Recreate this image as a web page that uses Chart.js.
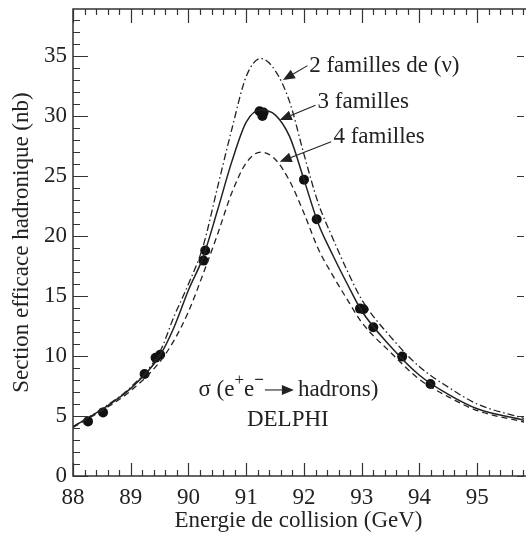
<!DOCTYPE html>
<html><head><meta charset="utf-8">
<script src="https://cdn.jsdelivr.net/npm/chart.js@4.4.1/dist/chart.umd.min.js"></script>
<style>html,body{margin:0;padding:0;background:#fff;overflow:hidden}#wrap{width:529px;height:539px}</style>
</head><body><div id="wrap"><canvas id="c" width="529" height="539"></canvas></div>
<script>
// ---- data ----
const energies       = [88, 88.5, 89, 89.5, 89.75, 90, 90.25, 90.5, 90.75, 91, 91.25, 91.5, 91.75, 92, 92.25, 92.5, 92.75, 93, 93.5, 94, 94.5, 95, 95.81];
const sigma2Families = [4.1, 5.6, 7.4, 10.3, 13.3, 16.0, 19.1, 24.0, 28.9, 33.3, 34.8, 33.8, 31.2, 26.8, 22.7, 19.8, 17.1, 14.7, 11.6, 9.1, 7.4, 6.0, 4.8];
const sigma3Families = [4.1, 5.55, 7.3, 10.0, 12.4, 15.5, 18.2, 22.1, 26.2, 29.5, 30.5, 30.1, 28.3, 24.7, 21.0, 18.4, 16.0, 13.75, 10.8, 8.4, 6.8, 5.6, 4.65];
const sigma4Families = [4.05, 5.45, 7.1, 9.5, 11.3, 13.7, 16.8, 20.1, 23.6, 26.1, 27.0, 26.4, 24.6, 21.9, 18.9, 16.7, 14.7, 12.8, 10.3, 8.05, 6.6, 5.45, 4.5];
const measuredEnergy = [88.26, 88.52, 89.24, 89.43, 89.51, 90.26, 90.29, 91.23, 91.28, 91.3, 92.0, 92.22, 92.97, 93.03, 93.2, 93.7, 94.19];
const measuredSigma  = [4.55, 5.3, 8.5, 9.85, 10.1, 17.95, 18.8, 30.4, 30.0, 30.3, 24.7, 21.4, 13.95, 13.9, 12.4, 9.95, 7.67];
const xTickValues = [88, 89, 90, 91, 92, 93, 94, 95];
const yTickValues = [0, 5, 10, 15, 20, 25, 30, 35];
const seriesLabels = ['2 familles de (\u03BD)', '3 familles', '4 familles'];
const xTitle = 'Energie de collision (GeV)';
const yTitle = 'Section efficace hadronique (nb)';

const pts = (xs, ys) => xs.map((v, i) => ({x: v, y: ys[i]}));
const FONT = '"Liberation Serif", "Times New Roman", serif';
const INK = '#222';

const decor = {
  id: 'decor',
  afterDraw(chart) {
    const {ctx, chartArea: ca, scales: {x, y}} = chart;
    ctx.save();
    ctx.strokeStyle = '#333';
    ctx.lineWidth = 1.5;
    ctx.beginPath();
    ctx.moveTo(ca.right + 2, ca.top); ctx.lineTo(ca.left, ca.top);
    ctx.lineTo(ca.left, ca.bottom); ctx.lineTo(ca.right + 2, ca.bottom);
    ctx.stroke();
    ctx.lineWidth = 1.2;
    ctx.beginPath();
    for (let k = 0; k <= 40; k++) {
      const v = 88 + k * 0.2;
      if (v > x.max + 1e-6) break;
      const px = Math.round(x.getPixelForValue(v)) + 0.5;
      const major = k % 5 === 0;
      ctx.moveTo(px, ca.bottom); ctx.lineTo(px, ca.bottom - (major ? 13 : 6));
      ctx.moveTo(px, ca.top); ctx.lineTo(px, ca.top + (major ? 14 : 6));
    }
    for (let k = 0; k <= 38; k++) {
      const py = Math.round(y.getPixelForValue(k)) + 0.5;
      const major = k % 5 === 0;
      ctx.moveTo(ca.left, py); ctx.lineTo(ca.left + (major ? 15 : 7), py);
      if (major) { ctx.moveTo(ca.right, py); ctx.lineTo(ca.right - 7, py); }
    }
    ctx.stroke();

    // annotation labels with arrows
    ctx.fillStyle = INK; ctx.strokeStyle = INK; ctx.lineWidth = 1.1;
    ctx.font = '23px ' + FONT;
    ctx.textBaseline = 'middle'; ctx.textAlign = 'left';
    const notes = [
      {text: seriesLabels[0], tx: 92.09, ty: 34.17, from: [92.06, 34.2], to: [91.635, 33.0]},
      {text: seriesLabels[1], tx: 92.235, ty: 31.19, from: [92.2, 30.9], to: [91.58, 29.67]},
      {text: seriesLabels[2], tx: 92.51, ty: 28.27, from: [92.47, 27.86], to: [91.58, 26.19]}
    ];
    const arrow = (x0, y0, x1, y1, hl, hw) => {
      const a = Math.atan2(y1 - y0, x1 - x0);
      const bx = x1 - hl * Math.cos(a), by = y1 - hl * Math.sin(a);
      ctx.beginPath(); ctx.moveTo(x0, y0); ctx.lineTo(bx, by); ctx.stroke();
      ctx.beginPath();
      ctx.moveTo(x1, y1);
      ctx.lineTo(bx + hw * Math.sin(a), by - hw * Math.cos(a));
      ctx.lineTo(bx - hw * Math.sin(a), by + hw * Math.cos(a));
      ctx.closePath(); ctx.fill();
    };
    notes.forEach(n => {
      ctx.fillText(n.text, x.getPixelForValue(n.tx), y.getPixelForValue(n.ty));
      arrow(x.getPixelForValue(n.from[0]), y.getPixelForValue(n.from[1]),
            x.getPixelForValue(n.to[0]), y.getPixelForValue(n.to[1]), 12, 5);
    });

    // sigma(e+e- -> hadrons) and DELPHI
    const big = '23px ' + FONT, small = '17px ' + FONT;
    const parts = [
      {t: '\u03C3 (e', f: big, dy: 0},
      {t: '+', f: small, dy: -9},
      {t: 'e', f: big, dy: 0},
      {t: '\u2212', f: 'bold ' + small, dy: -9},
      {arrow: 30},
      {t: 'hadrons)', f: big, dy: 0}
    ];
    let total = 0;
    parts.forEach(p => { if (p.arrow) { total += p.arrow + 4; } else { ctx.font = p.f; p.w = ctx.measureText(p.t).width; total += p.w; } });
    let cx = x.getPixelForValue(91.73) - total / 2;
    const cy = y.getPixelForValue(7.17);
    parts.forEach(p => {
      if (p.arrow) {
        arrow(cx + 1, cy, cx + p.arrow, cy, 12, 5);
        cx += p.arrow + 4;
      } else {
        ctx.font = p.f; ctx.fillText(p.t, cx, cy + p.dy); cx += p.w;
      }
    });
    ctx.font = big; ctx.textAlign = 'center';
    ctx.fillText('DELPHI', x.getPixelForValue(91.72), y.getPixelForValue(4.67));
    ctx.restore();
  }
};

const noPad = s => { s.paddingTop = 0; s.paddingBottom = 0; s.paddingLeft = 0; s.paddingRight = 0; };

new Chart(document.getElementById('c'), {
  type: 'scatter',
  data: {
    datasets: [
      {label: seriesLabels[0], data: pts(energies, sigma2Families), showLine: true, borderColor: INK, borderWidth: 1.3,
       borderDash: [7, 3, 1.5, 3], pointRadius: 0, cubicInterpolationMode: 'monotone', fill: false},
      {label: seriesLabels[1], data: pts(energies, sigma3Families), showLine: true, borderColor: INK, borderWidth: 1.5,
       pointRadius: 0, cubicInterpolationMode: 'monotone', fill: false},
      {label: seriesLabels[2], data: pts(energies, sigma4Families), showLine: true, borderColor: INK, borderWidth: 1.3,
       borderDash: [6, 4], pointRadius: 0, cubicInterpolationMode: 'monotone', fill: false},
      {label: 'DELPHI', data: pts(measuredEnergy, measuredSigma), showLine: false, pointRadius: 5,
       backgroundColor: '#111', borderColor: '#111', borderWidth: 0}
    ]
  },
  options: {
    responsive: false, animation: false, devicePixelRatio: 1,
    layout: {padding: {top: 9, right: 0, left: 0, bottom: 0}},
    plugins: {legend: {display: false}, tooltip: {enabled: false}},
    scales: {
      x: {
        type: 'linear', min: 88, max: 95.81,
        grid: {display: false, drawTicks: false}, border: {display: false},
        afterBuildTicks: s => { s.ticks = xTickValues.map(v => ({value: v})); },
        afterFit: s => { s.height = 63; noPad(s); },
        ticks: {color: INK, font: {family: FONT, size: 23}, padding: 8, maxRotation: 0, autoSkip: false},
        title: {display: true, text: xTitle, color: INK, font: {family: FONT, size: 23}, padding: {top: 0, bottom: 4}}
      },
      y: {
        type: 'linear', min: 0, max: 38.92,
        grid: {display: false, drawTicks: false}, border: {display: false},
        afterBuildTicks: s => { s.ticks = yTickValues.map(v => ({value: v})); },
        afterFit: s => { s.width = 73; noPad(s); },
        ticks: {color: INK, font: {family: FONT, size: 23}, padding: 6, autoSkip: false},
        title: {display: true, text: yTitle, color: INK, font: {family: FONT, size: 23}, padding: {top: 8, bottom: 0}}
      }
    }
  },
  plugins: [decor]
});
</script></body></html>
